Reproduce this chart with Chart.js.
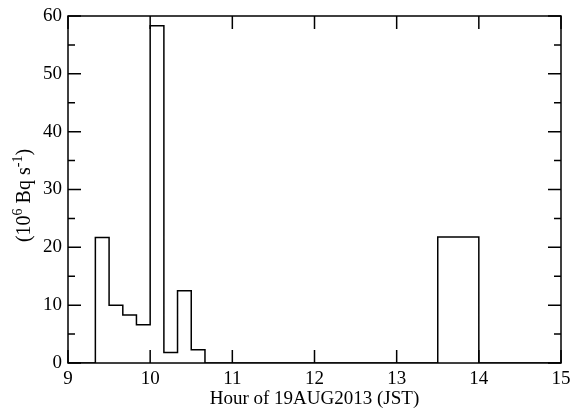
<!DOCTYPE html>
<html>
<head>
<meta charset="utf-8">
<script src="https://cdn.jsdelivr.net/npm/chart.js@4/dist/chart.umd.min.js"></script>
<style>
html,body{margin:0;padding:0;background:#fff;}
#wrap{width:570px;height:410px;position:relative;}
</style>
</head>
<body>
<div id="wrap"><canvas id="c" width="570" height="410"></canvas></div>
<script>
// Start hour of each 10-minute bin and its release rate (10^6 Bq/s)
const binStartHours = [9.0, 9.333, 9.5, 9.667, 9.833, 10.0, 10.167, 10.333, 10.5, 10.667, 13.5, 14.0, 15.0];
const releaseRates  = [0,   21.7,  10.0, 8.3,  6.6,   58.3, 1.8,    12.5,   2.3,  0,      21.8, 0,    0];
const xTickValues = [9, 10, 11, 12, 13, 14, 15];
const yTickValues = [0, 10, 20, 30, 40, 50, 60];
const xTitle = 'Hour of 19AUG2013 (JST)';
// y title pieces: [text, isSuperscript]
const yTitleParts = [['(10', false], ['6', true], [' Bq s', false], ['-1', true], [')', false]];

const points = binStartHours.map((h, i) => ({x: h, y: releaseRates[i]}));
const FONT = 'Liberation Serif';

const framePlugin = {
  id: 'frame',
  afterDatasetsDraw(chart) {
    const {ctx, chartArea: a, scales: {x, y}} = chart;
    ctx.save();
    ctx.strokeStyle = '#000';
    ctx.lineWidth = 1.5;
    ctx.beginPath();
    const major = 13, minor = 7;
    x.ticks.forEach(t => {
      const px = x.getPixelForValue(t.value);
      ctx.moveTo(px, a.bottom); ctx.lineTo(px, a.bottom - major);
      ctx.moveTo(px, a.top); ctx.lineTo(px, a.top + major);
    });
    y.ticks.forEach((t, i) => {
      const py = y.getPixelForValue(t.value);
      ctx.moveTo(a.left, py); ctx.lineTo(a.left + major, py);
      ctx.moveTo(a.right, py); ctx.lineTo(a.right - major, py);
      if (i < y.ticks.length - 1) {
        const pm = y.getPixelForValue((t.value + y.ticks[i + 1].value) / 2);
        ctx.moveTo(a.left, pm); ctx.lineTo(a.left + minor, pm);
        ctx.moveTo(a.right, pm); ctx.lineTo(a.right - minor, pm);
      }
    });
    ctx.stroke();
    ctx.strokeRect(a.left, a.top, a.right - a.left, a.bottom - a.top);

    // rotated y-axis title with superscripts
    const mainFont = '20px "' + FONT + '"';
    const supFont = '14px "' + FONT + '"';
    let total = 0;
    yTitleParts.forEach(([t, sup]) => { ctx.font = sup ? supFont : mainFont; total += ctx.measureText(t).width; });
    const cy = (a.top + a.bottom) / 2 + 6;
    ctx.translate(30, cy);
    ctx.rotate(-Math.PI / 2);
    ctx.fillStyle = '#000';
    ctx.textBaseline = 'alphabetic';
    ctx.textAlign = 'left';
    let cx = -total / 2;
    yTitleParts.forEach(([t, sup]) => {
      ctx.font = sup ? supFont : mainFont;
      ctx.fillText(t, cx, sup ? -8 : 0);
      cx += ctx.measureText(t).width;
    });
    ctx.restore();
  }
};

new Chart(document.getElementById('c'), {
  type: 'line',
  data: {
    datasets: [{
      data: points,
      stepped: 'before',
      borderColor: '#000',
      borderWidth: 1.5,
      pointRadius: 0,
      fill: false
    }]
  },
  options: {
    responsive: false,
    animation: false,
    events: [],
    layout: {padding: {top: 16, right: 9, left: 0, bottom: 0}},
    plugins: {legend: {display: false}, tooltip: {enabled: false}},
    scales: {
      x: {
        type: 'linear', min: 9, max: 15,
        afterBuildTicks(s) { s.ticks = xTickValues.map(v => ({value: v})); },
        afterFit(s) { s.height = 47; s.paddingLeft = 0; s.paddingRight = 0; },
        grid: {display: false, drawTicks: false},
        border: {display: false},
        ticks: {color: '#000', padding: 5, font: {family: FONT, size: 19}},
        title: {display: true, text: xTitle, color: '#000', padding: {top: 0, bottom: 0},
                font: {family: FONT, size: 19}}
      },
      y: {
        type: 'linear', min: 0, max: 60,
        afterBuildTicks(s) { s.ticks = yTickValues.map(v => ({value: v})); },
        afterFit(s) { s.width = 68; s.paddingTop = 0; s.paddingBottom = 0; },
        grid: {display: false, drawTicks: false},
        border: {display: false},
        ticks: {color: '#000', padding: 6, font: {family: FONT, size: 19}},
        title: {display: false}
      }
    }
  },
  plugins: [framePlugin]
});
</script>
</body>
</html>
